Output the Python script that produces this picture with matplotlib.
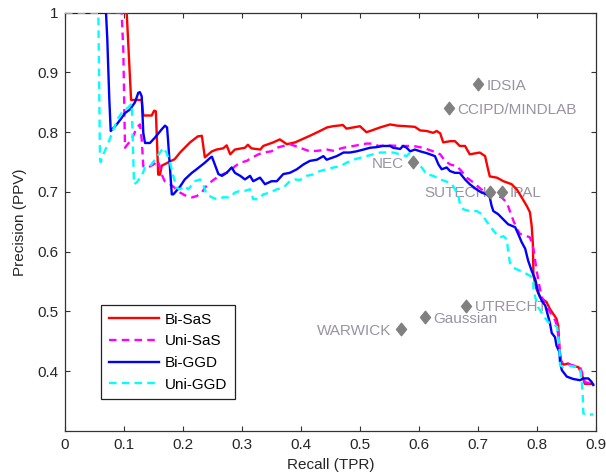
import matplotlib
matplotlib.use("Agg")
import matplotlib.pyplot as plt
from matplotlib.path import Path

plt.rcParams['font.family'] = ['Liberation Sans', 'DejaVu Sans']

# ---------------- data ----------------
bisas_recall = [0, 0.1046, 0.112, 0.130, 0.1327, 0.147, 0.151, 0.154, 0.158, 0.161, 0.164, 0.178, 0.186,
                0.195, 0.212, 0.225, 0.232, 0.237, 0.249, 0.257, 0.268, 0.274, 0.280, 0.288, 0.305, 0.310,
                0.316, 0.331, 0.336, 0.353, 0.364, 0.376, 0.390, 0.415, 0.432, 0.444, 0.454, 0.471, 0.477,
                0.500, 0.511, 0.520, 0.534, 0.551, 0.563, 0.579, 0.593, 0.602, 0.613, 0.624, 0.630, 0.636,
                0.641, 0.653, 0.661, 0.669, 0.678, 0.686, 0.703, 0.712, 0.717, 0.720, 0.732, 0.743, 0.757,
                0.766, 0.774, 0.783, 0.788, 0.791, 0.793, 0.794, 0.799, 0.805, 0.816, 0.822, 0.833, 0.836,
                0.838, 0.841, 0.845, 0.853, 0.859, 0.870, 0.876, 0.879, 0.881, 0.893, 0.895]
bisas_precision = [1, 1, 0.854, 0.854, 0.828, 0.828, 0.836, 0.835, 0.729, 0.729, 0.744, 0.751, 0.755,
                   0.766, 0.783, 0.793, 0.794, 0.758, 0.768, 0.771, 0.773, 0.778, 0.763, 0.771, 0.774, 0.779,
                   0.773, 0.771, 0.777, 0.783, 0.788, 0.780, 0.783, 0.794, 0.802, 0.808, 0.810, 0.812, 0.806,
                   0.810, 0.800, 0.803, 0.808, 0.813, 0.811, 0.810, 0.809, 0.803, 0.802, 0.799, 0.802, 0.798,
                   0.783, 0.785, 0.785, 0.777, 0.777, 0.763, 0.766, 0.760, 0.738, 0.726, 0.724, 0.718, 0.713,
                   0.704, 0.691, 0.676, 0.666, 0.643, 0.613, 0.560, 0.538, 0.524, 0.516, 0.504, 0.488, 0.476,
                   0.438, 0.416, 0.411, 0.413, 0.409, 0.407, 0.396, 0.385, 0.379, 0.379, 0.378]

unisas_recall = [0, 0.096, 0.0988, 0.1017, 0.1046, 0.113, 0.1215, 0.127, 0.130, 0.1327, 0.141, 0.150,
                 0.158, 0.164, 0.169, 0.178, 0.186, 0.195, 0.206, 0.215, 0.223, 0.232, 0.237, 0.246, 0.257,
                 0.268, 0.280, 0.288, 0.297, 0.308, 0.316, 0.328, 0.336, 0.350, 0.359, 0.370, 0.381, 0.390,
                 0.398, 0.415, 0.429, 0.444, 0.454, 0.472, 0.489, 0.511, 0.523, 0.531, 0.544, 0.568, 0.590,
                 0.607, 0.624, 0.636, 0.644, 0.653, 0.664, 0.672, 0.681, 0.692, 0.706, 0.720, 0.732, 0.740,
                 0.749, 0.754, 0.760, 0.766, 0.771, 0.780, 0.788, 0.794, 0.799, 0.804, 0.808, 0.814, 0.822,
                 0.831, 0.834, 0.836, 0.839, 0.841, 0.850, 0.864, 0.873, 0.876, 0.881, 0.893]
unisas_precision = [1, 1, 0.938, 0.774, 0.778, 0.788, 0.807, 0.813, 0.788, 0.743, 0.741, 0.746,
                    0.752, 0.729, 0.718, 0.713, 0.707, 0.699, 0.693, 0.691, 0.693, 0.699, 0.707, 0.716, 0.724,
                    0.730, 0.735, 0.743, 0.749, 0.752, 0.757, 0.763, 0.766, 0.768, 0.774, 0.777, 0.780, 0.777,
                    0.774, 0.768, 0.769, 0.771, 0.769, 0.774, 0.777, 0.781, 0.781, 0.777, 0.778, 0.777, 0.777,
                    0.774, 0.768, 0.763, 0.752, 0.746, 0.743, 0.735, 0.724, 0.716, 0.704, 0.699, 0.693, 0.691,
                    0.682, 0.668, 0.652, 0.638, 0.630, 0.627, 0.624, 0.605, 0.571, 0.543, 0.524, 0.513, 0.499,
                    0.485, 0.474, 0.460, 0.430, 0.416, 0.413, 0.409, 0.407, 0.399, 0.382, 0.379]

biggd_recall = [0, 0.0695, 0.0717, 0.0751, 0.0775, 0.0876, 0.096, 0.1017, 0.110, 0.1186, 0.1242, 0.127,
                0.130, 0.1327, 0.1356, 0.144, 0.1525, 0.164, 0.1695, 0.173, 0.175, 0.181, 0.1836, 0.195,
                0.203, 0.215, 0.223, 0.237, 0.246, 0.249, 0.260, 0.266, 0.274, 0.2825, 0.288, 0.297, 0.305,
                0.3136, 0.319, 0.3305, 0.339, 0.350, 0.359, 0.370, 0.381, 0.393, 0.404, 0.415, 0.427, 0.438,
                0.4435, 0.452, 0.4605, 0.472, 0.483, 0.494, 0.506, 0.517, 0.528, 0.539, 0.551, 0.556, 0.568,
                0.573, 0.579, 0.585, 0.593, 0.602, 0.613, 0.627, 0.633, 0.6385, 0.647, 0.6525, 0.661, 0.669,
                0.678, 0.686, 0.698, 0.706, 0.715, 0.720, 0.723, 0.726, 0.734, 0.743, 0.751, 0.763, 0.768,
                0.774, 0.780, 0.785, 0.791, 0.797, 0.802, 0.808, 0.814, 0.817, 0.822, 0.825, 0.8305, 0.833,
                0.838, 0.839, 0.842, 0.8505, 0.8615, 0.873, 0.8785, 0.887, 0.8927, 0.8954]
biggd_precision = [1, 1, 0.955, 0.855, 0.802, 0.813, 0.824, 0.832, 0.838, 0.850, 0.866, 0.867,
                   0.860, 0.799, 0.782, 0.782, 0.791, 0.805, 0.811, 0.808, 0.782, 0.696, 0.696, 0.709,
                   0.721, 0.732, 0.738, 0.749, 0.757, 0.759, 0.730, 0.727, 0.732, 0.741, 0.732, 0.727, 0.721,
                   0.727, 0.718, 0.724, 0.713, 0.718, 0.718, 0.730, 0.732, 0.738, 0.746, 0.752, 0.754, 0.760,
                   0.754, 0.757, 0.760, 0.766, 0.766, 0.768, 0.771, 0.774, 0.775, 0.777, 0.777, 0.774, 0.772,
                   0.777, 0.774, 0.768, 0.771, 0.768, 0.765, 0.760, 0.746, 0.738, 0.741, 0.735, 0.732, 0.732,
                   0.721, 0.713, 0.704, 0.699, 0.696, 0.691, 0.677, 0.668, 0.663, 0.654, 0.646, 0.641, 0.630,
                   0.616, 0.605, 0.585, 0.568, 0.554, 0.532, 0.518, 0.510, 0.499, 0.480, 0.464, 0.457, 0.443,
                   0.432, 0.416, 0.402, 0.391, 0.387, 0.385, 0.388, 0.388, 0.382, 0.377]

uniggd_recall = [0, 0.0565, 0.0593, 0.0605, 0.065, 0.0734, 0.082, 0.0903, 0.096, 0.1017, 0.107, 0.113,
                 0.117, 0.1215, 0.130, 0.1356, 0.144, 0.1525, 0.161, 0.1666, 0.172, 0.178, 0.1836, 0.189,
                 0.195, 0.203, 0.209, 0.220, 0.229, 0.234, 0.240, 0.249, 0.257, 0.268, 0.280, 0.288, 0.297,
                 0.305, 0.3136, 0.319, 0.3276, 0.336, 0.3475, 0.359, 0.370, 0.381, 0.390, 0.398, 0.4097,
                 0.421, 0.432, 0.4436, 0.455, 0.466, 0.4775, 0.4886, 0.500, 0.511, 0.5225, 0.534, 0.545,
                 0.5565, 0.568, 0.579, 0.585, 0.593, 0.599, 0.6046, 0.613, 0.624, 0.636, 0.655, 0.661,
                 0.6666, 0.669, 0.675, 0.686, 0.698, 0.706, 0.712, 0.720, 0.7288, 0.737, 0.743, 0.7486,
                 0.7514, 0.754, 0.760, 0.774, 0.788, 0.794, 0.794, 0.797, 0.802, 0.811, 0.819, 0.828, 0.834,
                 0.836, 0.838, 0.839, 0.845, 0.856, 0.867, 0.873, 0.876, 0.8775, 0.8785, 0.8843, 0.8954]
uniggd_precision = [1, 1, 0.755, 0.750, 0.763, 0.782, 0.805, 0.824, 0.832, 0.838, 0.841, 0.848,
                    0.713, 0.716, 0.727, 0.741, 0.743, 0.754, 0.766, 0.774, 0.766, 0.749, 0.727, 0.707,
                    0.7045, 0.710, 0.7045, 0.718, 0.721, 0.713, 0.696, 0.691, 0.688, 0.691, 0.691, 0.699, 0.702,
                    0.702, 0.7045, 0.688, 0.688, 0.696, 0.699, 0.7045, 0.707, 0.718, 0.721, 0.720, 0.727,
                    0.7295, 0.735, 0.738, 0.741, 0.743, 0.749, 0.754, 0.757, 0.760, 0.763, 0.766, 0.766,
                    0.766, 0.763, 0.760, 0.766, 0.7545, 0.746, 0.741, 0.7295, 0.727, 0.721, 0.7145, 0.7045,
                    0.6945, 0.682, 0.671, 0.668, 0.668, 0.663, 0.6545, 0.643, 0.632, 0.624, 0.626, 0.621,
                    0.599, 0.582, 0.573, 0.567, 0.560, 0.554, 0.538, 0.524, 0.507, 0.493, 0.482, 0.4795, 0.474,
                    0.460, 0.443, 0.410, 0.407, 0.409, 0.407, 0.4045, 0.382, 0.360, 0.3295, 0.3267, 0.328]

series_names = ['Bi-SaS', 'Uni-SaS', 'Bi-GGD', 'Uni-GGD']

team_names = ['IDSIA', 'CCIPD/MINDLAB', 'NEC', 'SUTECH', 'IPAL', 'UTRECHT', 'Gaussian', 'WARWICK']
team_recall = [0.70, 0.65, 0.59, 0.72, 0.74, 0.68, 0.61, 0.57]
team_precision = [0.88, 0.84, 0.75, 0.70, 0.70, 0.51, 0.49, 0.47]
team_label_side = ['right', 'right', 'left', 'left', 'right', 'right', 'right', 'left']

x_ticks = [0, 0.1, 0.2, 0.3, 0.4, 0.5, 0.6, 0.7, 0.8, 0.9]
x_tick_labels = ['0', '0.1', '0.2', '0.3', '0.4', '0.5', '0.6', '0.7', '0.8', '0.9']
y_ticks = [0.4, 0.5, 0.6, 0.7, 0.8, 0.9, 1.0]
y_tick_labels = ['0.4', '0.5', '0.6', '0.7', '0.8', '0.9', '1']

# ---------------- figure ----------------
fig = plt.figure(figsize=(6.06, 4.74), dpi=100)
ax = fig.add_axes([65 / 606, 1 - 431 / 474, (596 - 65) / 606, (431 - 12.7) / 474])

text_color = '#262626'
spine_color = '#333333'

styles = [
    dict(color='#ff0000', linestyle='-'),
    dict(color='#ff00ff', linestyle=(0, (3.2, 2.2))),
    dict(color='#0000ff', linestyle='-'),
    dict(color='#00ffff', linestyle=(0, (3.2, 2.2))),
]
data = [(bisas_recall, bisas_precision), (unisas_recall, unisas_precision),
        (biggd_recall, biggd_precision), (uniggd_recall, uniggd_precision)]
for (xs, ys), name, st in zip(data, series_names, styles):
    ax.plot(xs, ys, lw=1.7, label=name, zorder=3, **st)

diamond = Path([(0, 1), (0.8, 0), (0, -1), (-0.8, 0), (0, 1)],
               [Path.MOVETO, Path.LINETO, Path.LINETO, Path.LINETO, Path.CLOSEPOLY])
ax.plot(team_recall, team_precision, linestyle='none', marker=diamond, markersize=9,
        color='#808080', markeredgecolor='#808080', zorder=4)
for name, xv, yv, side in zip(team_names, team_recall, team_precision, team_label_side):
    if side == 'right':
        ax.annotate(name, (xv, yv), xytext=(6, 0), textcoords='offset points',
                    ha='left', va='center_baseline', fontsize=11, color='#9893a3', zorder=2)
    else:
        off = -2 if name == 'SUTECH' else -7
        ax.annotate(name, (xv, yv), xytext=(off, 0), textcoords='offset points',
                    ha='right', va='center_baseline', fontsize=11, color='#9893a3', zorder=2)

ax.set_xlim(0, 0.9)
ax.set_ylim(0.3, 1.0)
ax.set_xticks(x_ticks)
ax.set_xticklabels(x_tick_labels)
ax.set_yticks(y_ticks)
ax.set_yticklabels(y_tick_labels)
ax.tick_params(direction='in', top=True, right=True, length=3.6, width=0.8,
               labelsize=11, colors=spine_color, labelcolor=text_color, pad=5)
for sp in ax.spines.values():
    sp.set_color(spine_color)
    sp.set_linewidth(0.9)

ax.set_xlabel('Recall (TPR)', fontsize=11, color=text_color, labelpad=4)
ax.set_ylabel('Precision (PPV)', fontsize=11, color=text_color, labelpad=7)

leg = ax.legend(loc='upper left', bbox_to_anchor=(0.0678, 0.301), borderaxespad=0,
                fontsize=11, fancybox=False, framealpha=1, edgecolor='#222222',
                handlelength=3.3, labelspacing=0.5, borderpad=0.5, handletextpad=0.4)
leg.get_frame().set_linewidth(0.9)

fig.savefig('out.png', dpi=100)
